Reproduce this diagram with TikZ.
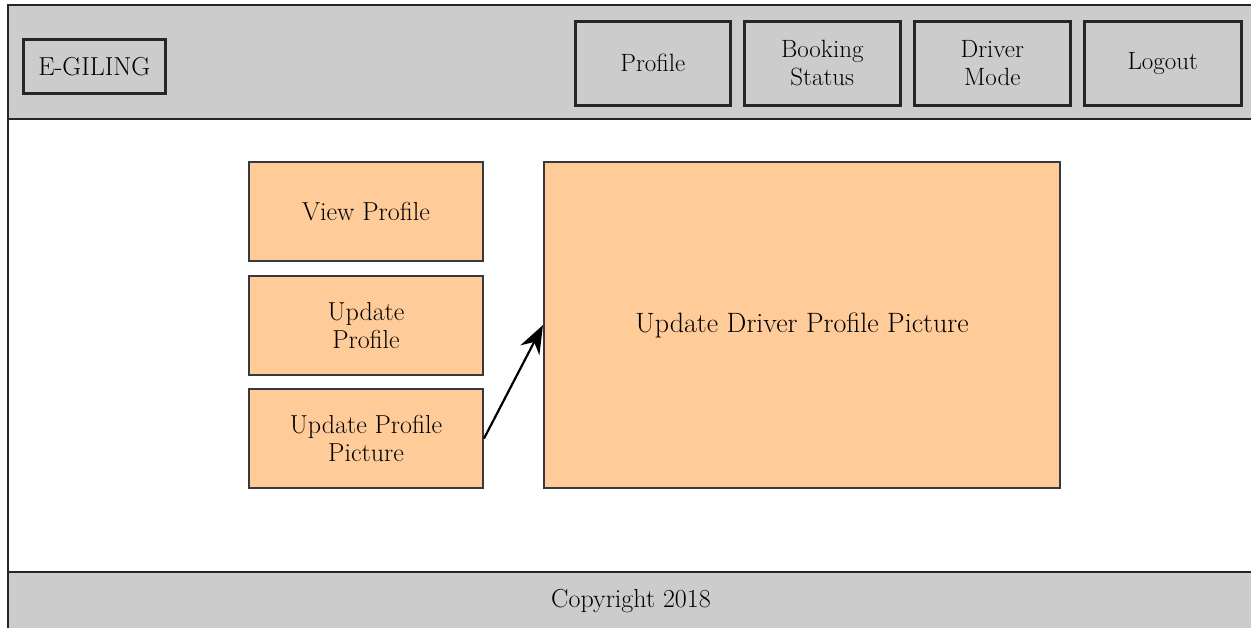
\documentclass[tikz,border=0pt]{standalone}
\usetikzlibrary{arrows.meta}
\definecolor{bargray}{HTML}{CCCCCC}
\definecolor{panel}{HTML}{FFCC99}
\definecolor{edge}{HTML}{36393D}
\tikzset{
  navbtn/.style={draw=black!85, line width=2.6pt, fill=bargray, inner sep=0pt,
    align=center, font=\fontsize{25}{28}\selectfont, anchor=north west},
  menubtn/.style={draw=edge, line width=2pt, fill=panel, inner sep=0pt,
    align=center, font=\fontsize{26}{28}\selectfont, anchor=north west,
    minimum width=234pt, minimum height=99pt},
  frame/.style={draw=black!85, line width=2.6pt},
  link/.style={line width=2.2pt, -{Stealth[scale=2.2]}}
}
\begin{document}
\begin{tikzpicture}[x=1pt, y=-1pt]
\useasboundingbox (0,0) rectangle (1251,627);
\clip (0,0) rectangle (1251,627);
% page background
\fill[white] (0,0) rectangle (1251,627);
% header bar and footer bar
\filldraw[frame, fill=bargray] (8,5) rectangle (1265,119);
\filldraw[frame, fill=bargray] (8,572) rectangle (1265,640);
\draw[frame] (8,119) -- (8,572);
% logo
\node[navbtn, minimum width=142pt, minimum height=54pt, font=\fontsize{26}{28}\selectfont] (logo) at (22,38) {E-GILING};
% navigation buttons
\node[navbtn, minimum width=155pt, minimum height=84pt] (profile) at (574,20) {Profile};
\node[navbtn, minimum width=156pt, minimum height=84pt] (booking) at (743,20) {Booking\\Status};
\node[navbtn, minimum width=156pt, minimum height=84pt] (driver) at (913,20) {Driver\\Mode};
\node[navbtn, minimum width=157pt, minimum height=84pt] (logout) at (1083,20) {Logout};
% side menu
\node[menubtn] (view) at (248,161) {View Profile};
\node[menubtn] (update) at (248,275) {Update\\Profile};
\node[menubtn] (picture) at (248,388) {Update Profile\\Picture};
% content panel
\node[menubtn, minimum width=516pt, minimum height=326pt, font=\fontsize{28}{32}\selectfont]
  (main) at (543,161) {Update Driver Profile Picture};
\draw[link] (picture.east) -- (main.west);
% footer text
\node[font=\fontsize{26}{28}\selectfont] (copy) at (631,601) {Copyright 2018};
\end{tikzpicture}
\end{document}
